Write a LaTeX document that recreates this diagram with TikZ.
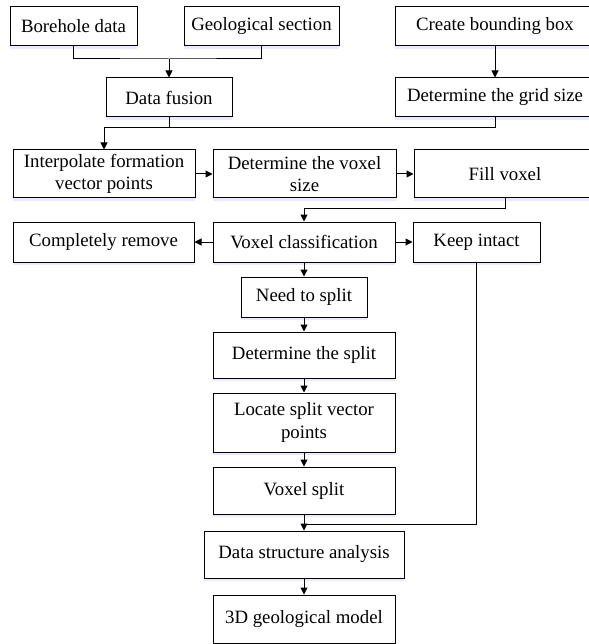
\documentclass[tikz,border=0pt]{standalone}
\usepackage{fontspec}
\setmainfont{Liberation Serif}
\usetikzlibrary{%
  arrows.meta,%
  shadows%
}

\begin{document}
\begin{tikzpicture}[x=1pt,y=-1pt,
    box/.style={draw,line width=1pt,fill=white,align=center,inner sep=0pt,
      font=\fontsize{18.8}{22.5}\selectfont,
      drop shadow={shadow xshift=0pt,shadow yshift=-3pt,fill=blue!25,opacity=0.35}},
    flow/.style={line width=1pt,-{Triangle[length=7pt,width=7pt]}},
    link/.style={line width=1pt}]
  \useasboundingbox (0,0) rectangle (588,644);

  \node[box,minimum width=127pt,minimum height=39pt] (bore) at (73.5,26.5) {Borehole data};
  \node[box,minimum width=155pt,minimum height=39pt] (geo) at (261.5,26.5) {Geological section};
  \node[box,minimum width=200pt,minimum height=39pt] (bbox) at (495,26.5) {Create bounding box};

  \node[box,minimum width=126pt,minimum height=39pt] (fusion) at (169,97.5) {Data fusion};
  \node[box,minimum width=200pt,minimum height=39pt] (grid) at (495,97.5) {Determine the grid size};

  \node[box,minimum width=182pt,minimum height=48pt] (interp) at (104,174) {Interpolate formation\\vector points};
  \node[box,minimum width=183pt,minimum height=48pt] (vsize) at (304.5,174) {Determine the voxel\\size};
  \node[box,minimum width=182pt,minimum height=48pt] (fill) at (505,174) {Fill voxel};

  \node[box,minimum width=181pt,minimum height=40pt] (remove) at (103.5,242) {Completely remove};
  \node[box,minimum width=182pt,minimum height=40pt] (vclass) at (304,242) {Voxel classification};
  \node[box,minimum width=127pt,minimum height=40pt] (keep) at (476.5,242) {Keep intact};

  \node[box,minimum width=126pt,minimum height=40pt] (need) at (304,297) {Need to split};
  \node[box,minimum width=182pt,minimum height=46pt] (dsplit) at (304,355) {Determine the split};
  \node[box,minimum width=182pt,minimum height=59pt] (locate) at (304,422.5) {Locate split vector\\points};
  \node[box,minimum width=182pt,minimum height=47pt] (vsplit) at (304,490.5) {Voxel split};
  \node[box,minimum width=200pt,minimum height=47pt] (dsa) at (304,554.5) {Data structure analysis};
  \node[box,minimum width=182pt,minimum height=48pt] (model) at (304,619) {3D geological model};

  \coordinate (j1) at (169,59);
  \coordinate (j2) at (104,128);
  \coordinate (j3) at (304,209);
  \coordinate (j4) at (304,524);

  \draw[link] (bore.south) |- (j1) -| (geo.south);
  \draw[flow] (j1) -- (fusion.north);
  \draw[flow] (bbox.south) -- (grid.north);
  \draw[link] (grid.south) |- (j2);
  \draw[link] (fusion.south) -- (fusion.south |- j2);
  \draw[flow] (j2) -- (interp.north);

  \draw[flow] (interp.east) -- (vsize.west);
  \draw[flow] (vsize.east) -- (fill.west);
  \draw[link] (fill.south) |- (j3);
  \draw[flow] (j3) -- (vclass.north);

  \draw[flow] (vclass.west) -- (remove.east);
  \draw[flow] (vclass.east) -- (keep.west);
  \draw[flow] (vclass.south) -- (need.north);
  \draw[flow] (need.south) -- (dsplit.north);
  \draw[flow] (dsplit.south) -- (locate.north);
  \draw[flow] (locate.south) -- (vsplit.north);
  \draw[flow] (vsplit.south) -- (dsa.north);
  \draw[link] (keep.south) |- (j4);
  \draw[flow] (dsa.south) -- (model.north);
\end{tikzpicture}
\end{document}
